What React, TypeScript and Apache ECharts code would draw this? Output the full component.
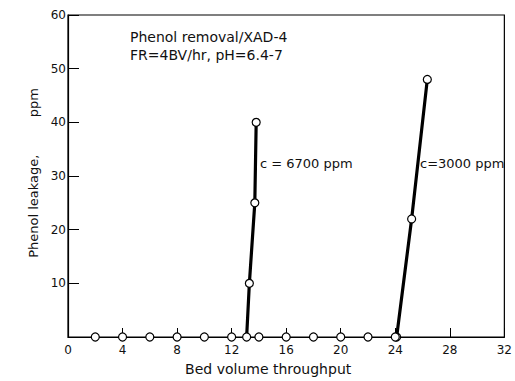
import React, { useEffect, useRef } from "react";
import * as echarts from "echarts";

const baselineX = [2, 4, 6, 8, 10, 12, 14, 16, 18, 20, 22, 24];
const run6700 = [
  [13.1, 0],
  [13.3, 10],
  [13.7, 25],
  [13.8, 40],
];
const run3000 = [
  [24.1, 0],
  [25.2, 22],
  [26.35, 48],
];
const xTicks = [0, 4, 8, 12, 16, 20, 24, 28, 32];
const yTicks = [0, 10, 20, 30, 40, 50, 60];
const noteLines = ["Phenol removal/XAD-4", "FR=4BV/hr, pH=6.4-7"];
const seriesLabels = ["c = 6700 ppm", "c=3000 ppm"];

const FONT = "DejaVu Sans";

export default function App() {
  const ref = useRef<HTMLDivElement>(null);
  useEffect(() => {
    if (!ref.current) return;
    const chart = echarts.init(ref.current, undefined, { renderer: "svg" });
    const circle = {
      symbol: "circle",
      symbolSize: 8,
      itemStyle: { color: "#fff", borderColor: "#000", borderWidth: 1.2 },
    };
    chart.setOption({
      animation: false,
      backgroundColor: "#fff",
      grid: {
        left: 68,
        right: 8,
        top: 15,
        bottom: 39,
        show: true,
        borderColor: "#000",
        borderWidth: 1.2,
        backgroundColor: "transparent",
      },
      xAxis: {
        type: "value",
        min: xTicks[0],
        max: xTicks[xTicks.length - 1],
        interval: 4,
        name: "Bed volume throughput",
        nameLocation: "middle",
        nameGap: 25,
        nameTextStyle: {
          fontFamily: FONT,
          fontSize: 14,
          color: "#111",
          padding: [0, 36, 0, 0],
        },
        axisLine: { show: true, lineStyle: { color: "#000", width: 1.2 } },
        axisTick: { show: true, inside: true, length: 9, lineStyle: { color: "#000" } },
        axisLabel: {
          fontFamily: FONT,
          fontSize: 12,
          color: "#111",
          margin: 7,
          formatter: (v: number) => (xTicks.includes(v) ? String(v) : ""),
        },
        splitLine: { show: false },
      },
      yAxis: {
        type: "value",
        min: yTicks[0],
        max: yTicks[yTicks.length - 1],
        interval: 10,
        name: "Phenol leakage,         ppm",
        nameLocation: "middle",
        nameGap: 28,
        nameRotate: 90,
        nameTextStyle: {
          fontFamily: FONT,
          fontSize: 13,
          color: "#111",
          padding: [0, 0, 0, 6],
        },
        axisLine: { show: true, lineStyle: { color: "#000", width: 1.2 } },
        axisTick: { show: true, inside: true, length: 11, lineStyle: { color: "#000" } },
        axisLabel: {
          fontFamily: FONT,
          fontSize: 12,
          color: "#111",
          margin: 2,
          formatter: (v: number) => (v === 0 ? "" : String(v)),
        },
        splitLine: { show: false },
      },
      series: [
        {
          type: "line",
          data: baselineX.map((x) => [x, 0]),
          lineStyle: { width: 0 },
          ...circle,
          z: 5,
        },
        {
          type: "line",
          data: run6700,
          lineStyle: { color: "#000", width: 3.2 },
          ...circle,
          z: 4,
        },
        {
          type: "line",
          data: run3000,
          lineStyle: { color: "#000", width: 3.2 },
          ...circle,
          z: 4,
        },
      ],
      graphic: [
        {
          type: "text",
          left: 130,
          top: 28,
          style: {
            text: noteLines.join("\n"),
            fontFamily: FONT,
            fontSize: 14,
            lineHeight: 18,
            fill: "#111",
          },
        },
        {
          type: "text",
          left: 260,
          top: 157,
          style: { text: seriesLabels[0], fontFamily: FONT, fontSize: 13, fill: "#111" },
        },
        {
          type: "text",
          left: 420,
          top: 157,
          style: { text: seriesLabels[1], fontFamily: FONT, fontSize: 13, fill: "#111" },
        },
      ],
    });
    return () => chart.dispose();
  }, []);
  return <div ref={ref} style={{ width: 515, height: 381, position: "fixed", left: 0, top: 0 }} />;
}
